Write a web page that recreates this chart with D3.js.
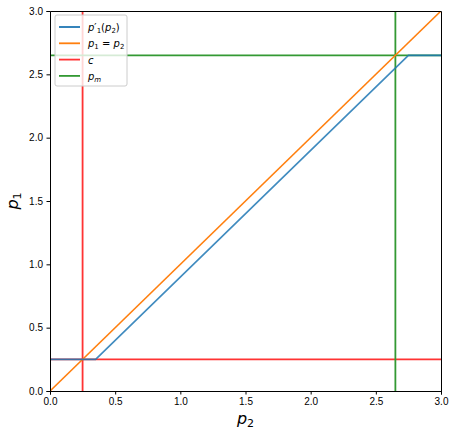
<!DOCTYPE html>
<html>
<head>
<meta charset="utf-8">
<script src="https://cdn.jsdelivr.net/npm/d3@7"></script>
<style>
  body { margin: 0; background: #fff; }
  svg { font-family: "DejaVu Sans", sans-serif; }
  .tick text { font-size: 10px; fill: #000; }
  .tick line { stroke: #000; }
  .domain { stroke: #000; }
</style>
</head>
<body>
<svg width="455" height="435"></svg>
<script>
// chart values
const cValue = 0.25
const pmValue = 2.65
const bestResponse = [[0, 0.25], [0.35, 0.25], [2.75, 2.65], [3, 2.65]]
const diagonal = [[0, 0], [3, 3]]
const ticks = [0, 0.5, 1, 1.5, 2, 2.5, 3]
const legendLabels = ['p\u2032\u2081(p\u2082)', 'p\u2081 = p\u2082', 'c', 'p\u2098']
const legendColors = ['#1f77b4', '#ff7f0e', '#ff3333', '#339933']

const svg = d3.select('svg')

const x = d3.scaleLinear().domain([0, 3]).range([50, 441])
const y = d3.scaleLinear().domain([0, 3]).range([391, 11])

const line = d3.line()
  .x(d => x(d[0]))
  .y(d => y(d[1]))

// clip everything to the plot area
svg.append('clipPath').attr('id', 'clip')
  .append('rect')
  .attr('x', x(0)).attr('y', y(3))
  .attr('width', x(3) - x(0)).attr('height', y(0) - y(3))

const plot = svg.append('g').attr('clip-path', 'url(#clip)')

// reference lines: c and pm, horizontal and vertical
const refs = [[cValue, legendColors[2]], [pmValue, legendColors[3]]]
refs.forEach(r => {
  plot.append('line')
    .attr('x1', x(0)).attr('x2', x(3))
    .attr('y1', y(r[0])).attr('y2', y(r[0]))
    .attr('stroke', r[1]).attr('stroke-width', 1.8)
  plot.append('line')
    .attr('x1', x(r[0])).attr('x2', x(r[0]))
    .attr('y1', y(0)).attr('y2', y(3))
    .attr('stroke', r[1]).attr('stroke-width', 1.8)
})

plot.append('path')
  .datum(diagonal)
  .attr('d', line)
  .attr('fill', 'none')
  .attr('stroke', legendColors[1])
  .attr('stroke-width', 1.6)

plot.append('path')
  .datum(bestResponse)
  .attr('d', line)
  .attr('fill', 'none')
  .attr('stroke', legendColors[0])
  .attr('stroke-opacity', 0.85)
  .attr('stroke-width', 1.6)

// axes
svg.append('g')
  .attr('transform', `translate(0,${y(0)})`)
  .call(d3.axisBottom(x).tickValues(ticks).tickFormat(d3.format('.1f')).tickSize(3.5).tickPadding(3.5))
svg.append('g')
  .attr('transform', `translate(${x(0)},0)`)
  .call(d3.axisLeft(y).tickValues(ticks).tickFormat(d3.format('.1f')).tickSize(3.5).tickPadding(3.5))
svg.append('g')
  .attr('transform', `translate(0,${y(3)})`)
  .call(d3.axisTop(x).tickValues([]).tickSizeOuter(0))
svg.append('g')
  .attr('transform', `translate(${x(3)},0)`)
  .call(d3.axisRight(y).tickValues([]).tickSizeOuter(0))

// axis labels
svg.append('text')
  .attr('x', (x(0) + x(3)) / 2).attr('y', 424)
  .attr('text-anchor', 'middle')
  .style('font-size', '16px').style('font-style', 'italic')
  .html('p<tspan dy="3" font-size="11" font-style="normal">2</tspan>')

svg.append('text')
  .attr('transform', `translate(18,${(y(0) + y(3)) / 2}) rotate(-90)`)
  .attr('text-anchor', 'middle')
  .style('font-size', '16px').style('font-style', 'italic')
  .html('p<tspan dy="3" font-size="11" font-style="normal">1</tspan>')

// legend
const legend = svg.append('g').attr('transform', 'translate(55,15)')
legend.append('rect')
  .attr('width', 72).attr('height', 71).attr('rx', 2)
  .attr('fill', '#fff').attr('fill-opacity', 0.8)
  .attr('stroke', '#ccc')

const entries = legend.selectAll('g.entry')
  .data(legendLabels)
  .enter()
  .append('g')
  .attr('class', 'entry')
  .attr('transform', (d, i) => `translate(0, ${12 + i * 16.3})`)

entries.append('line')
  .attr('x1', 4).attr('x2', 25)
  .attr('stroke', (d, i) => legendColors[i])
  .attr('stroke-width', 1.8)

const lt = entries.append('text')
  .attr('x', 33).attr('y', 4)
  .style('font-size', '10px')

lt.filter((d, i) => i === 0).html('<tspan font-style="italic">p</tspan><tspan>\u2032</tspan><tspan font-size="7" dy="2">1</tspan><tspan dy="-2">(</tspan><tspan font-style="italic">p</tspan><tspan font-size="7" dy="2">2</tspan><tspan dy="-2">)</tspan>')
lt.filter((d, i) => i === 1).html('<tspan font-style="italic">p</tspan><tspan font-size="7" dy="2">1</tspan><tspan dy="-2"> = </tspan><tspan font-style="italic">p</tspan><tspan font-size="7" dy="2">2</tspan>')
lt.filter((d, i) => i === 2).html('<tspan font-style="italic">c</tspan>')
lt.filter((d, i) => i === 3).html('<tspan font-style="italic">p</tspan><tspan font-size="7" font-style="italic" dy="2">m</tspan>')
</script>
</body>
</html>
